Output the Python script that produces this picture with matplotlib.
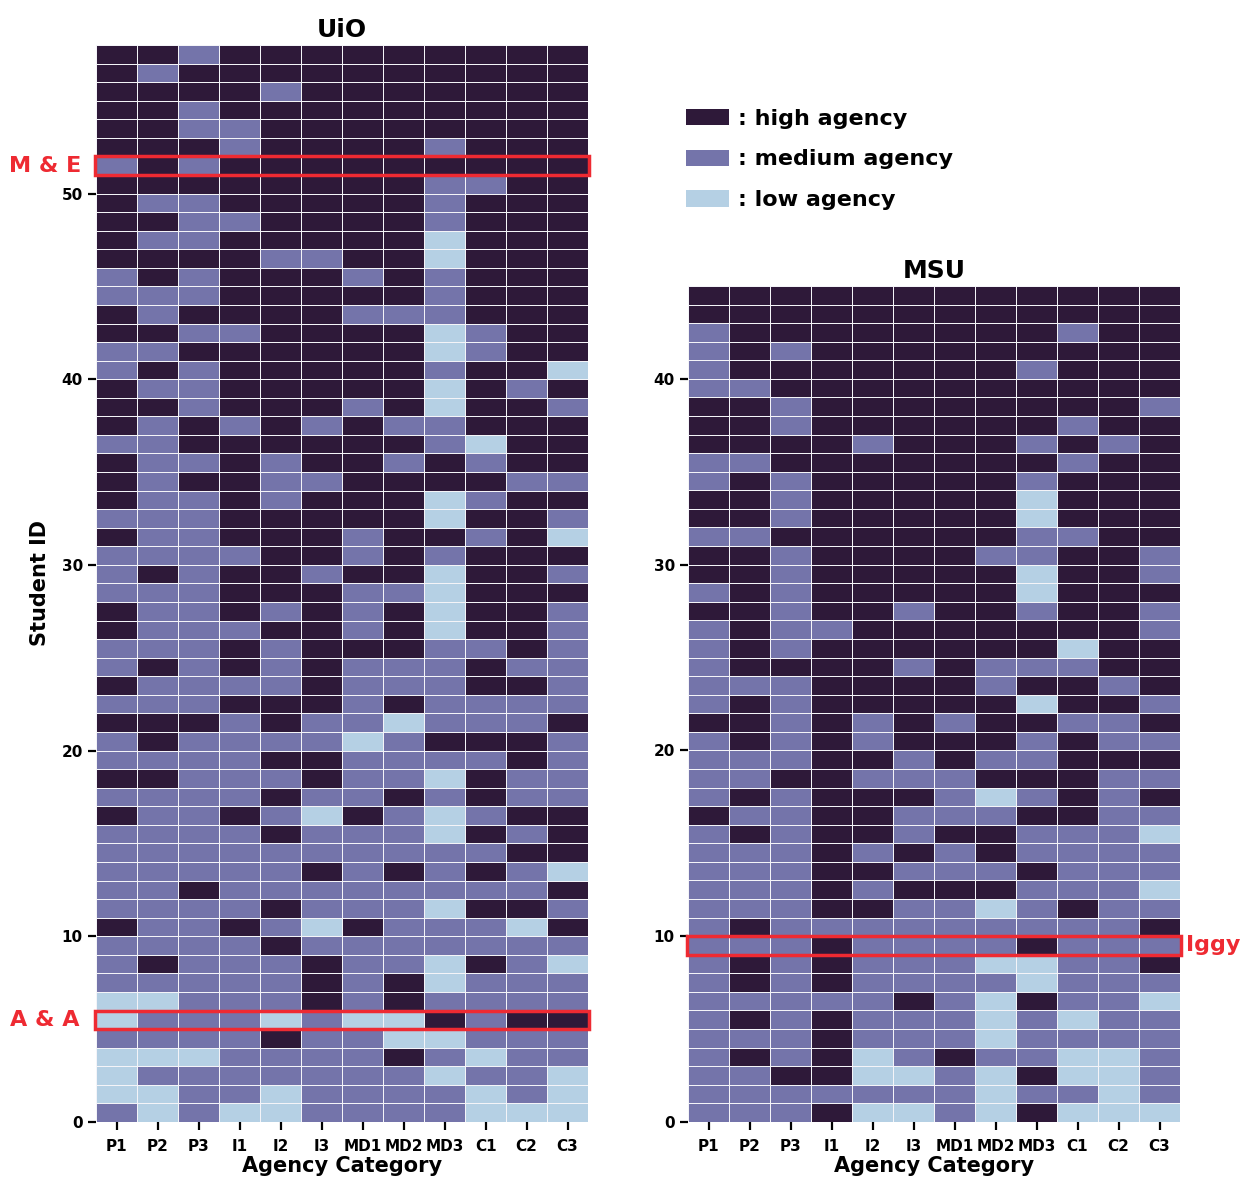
import matplotlib.pyplot as plt
import numpy as np
from matplotlib.colors import ListedColormap
from matplotlib.patches import Patch, Rectangle

plt.rcParams['font.family'] = ['DejaVu Sans']
plt.rcParams['font.weight'] = 'bold'

categories = ['P1', 'P2', 'P3', 'I1', 'I2', 'I3', 'MD1', 'MD2', 'MD3', 'C1', 'C2', 'C3']
codes = {'L': 0, 'M': 1, 'H': 2}
level_names = [': low agency', ': medium agency', ': high agency']
colours = ['#b5d0e4', '#7474aa', '#2e1939']

# one string per student, highest ID first (H = high, M = medium, L = low)
uio_rows = [
    'HHMHHHHHHHHH', 'HMHHHHHHHHHH', 'HHHHMHHHHHHH', 'HHMHHHHHHHHH',
    'HHMMHHHHHHHH', 'HHHMHHHHMHHH', 'MHMHHHHHHHHH', 'HHHHHHHHMMHH',
    'HMMHHHHHMHHH', 'HHMMHHHHMHHH', 'HMMHHHHHLHHH', 'HHHHMMHHLHHH',
    'MHMHHHMHMHHH', 'MMMHHHHHMHHH', 'HMHHHHMMMHHH', 'HHMMHHHHLMHH',
    'MMHHHHHHLMHH', 'MHMHHHHHMHHL', 'HMMHHHHHLHMH', 'HHMHHHMHLHHM',
    'HMHMHMHMMHHH', 'MMHHHHHHMLHH', 'HMMHMHHMHMHH', 'HMHHMMHHHHMM',
    'HMMHMHHHLMHH', 'MMMHHHHHLHHM', 'HMMHHHMHHMHL', 'MMMMHHMHMHHH',
    'MHMHHMHHLHHM', 'MMMHHHMMLHHH', 'HMMHMHMHLHHM', 'HMMMHHMHLHHM',
    'MMMHMHHHMMHM', 'MHMHMHMMMHMM', 'HMMMMHMMMHHM', 'MMMHHHMHMMMM',
    'HHHMHMMLMMMH', 'MHMMMMLMHHHM', 'MMMMHHMMMMHM', 'HHMMMHMMLHMM',
    'MMMMHMMHMHMM', 'HMMHMLHMLMHH', 'MMMMHMMMLHMH', 'MMMMMMMMMMHH',
    'MMMMMHMHMHML', 'MMHMMMMMMMMH', 'MMMMHMMMLHHM', 'HMMHMLHMMMLH',
    'MMMMHMMMMMMM', 'MHMMMHMMLHML', 'MMMMMHMHLMMM', 'LLMMMHMHMMMM',
    'LMMMLMLLHMHH', 'MMMMHMMLLMMM', 'LLLMMMMHMLMM', 'LMMMMMMMLMML',
    'LLMMLMMMMLML', 'MLMLLMMMMLLL',
]
msu_rows = [
    'HHHHHHHHHHHH', 'HHHHHHHHHHHH', 'MHHHHHHHHMHH', 'MHMHHHHHHHHH',
    'MHHHHHHHMHHH', 'MMHHHHHHHHHH', 'HHMHHHHHHHHM', 'HHMHHHHHHMHH',
    'HHHHMHHHMHMH', 'MMHHHHHHHMHH', 'MHMHHHHHMHHH', 'HHMHHHHHLHHH',
    'HHMHHHHHLHHH', 'MMHHHHHHMMHH', 'HHMHHHHMMHHM', 'HHMHHHHHLHHM',
    'MHMHHHHHLHHH', 'HHMHHMHHMHHM', 'MHMMHHHHHHHM', 'MHMHHHHHHLHH',
    'MHHHHMHMMMHH', 'MMMHHHHMHHMH', 'MHMHHHHHLHHM', 'HHMHMHMHHMMH',
    'MHMHMHHHMHMM', 'MMMHHMHMMHHH', 'MMHHMMMHHHMM', 'MHMHHHMLMHMH',
    'HMMHHMMMHHMM', 'MHMHHMHHMMML', 'MMMHMHMHMMMM', 'MMMHHMMMHMMM',
    'MMMHMHHHMMML', 'MMMHHMMLMHMM', 'MHMMMMMMMMMH', 'MMMHMMMMHMMM',
    'MHMHMMMLLMMH', 'MHMHMMMMLMMM', 'MMMMMHMLHMML', 'MHMHMMMLMLMM',
    'MMMHMMMLMMMM', 'MHMHLMHMMLLM', 'MMHHLLMLHLLM', 'MMMMMMMLMMLM',
    'MMMHLLMLHLLL',
]

uio_marked = {'M & E': 51, 'A & A': 5}
msu_marked = {'Iggy': 9}


def to_grid(rows):
    return np.array([[codes[c] for c in r] for r in rows[::-1]])


cmap = ListedColormap(colours)
fig = plt.figure(figsize=(12.41, 11.84), dpi=100)
ax1 = fig.add_axes([0.0774, 0.0524, 0.3965, 0.9096])
ax2 = fig.add_axes([0.5544, 0.0524, 0.3965, 0.7061])

for ax, rows, name in [(ax1, uio_rows, 'UiO'), (ax2, msu_rows, 'MSU')]:
    grid = to_grid(rows)
    n = grid.shape[0]
    ax.pcolormesh(np.arange(len(categories) + 1), np.arange(n + 1), grid,
                  cmap=cmap, vmin=-0.5, vmax=2.5, edgecolors='#f4f4f8', linewidth=0.6)
    ax.set_xlim(0, len(categories))
    ax.set_ylim(0, n)
    ax.set_xticks(np.arange(len(categories)) + 0.5)
    ax.set_xticklabels(categories, fontsize=11, fontweight='bold')
    ax.set_yticks(np.arange(0, n, 10))
    ax.tick_params(axis='y', labelsize=11, length=6, width=1.6)
    ax.tick_params(axis='x', length=6, width=1.6, pad=6)
    for s in ax.spines.values():
        s.set_visible(False)
    ax.set_title(name, fontsize=18, fontweight='bold', pad=6)
    ax.set_xlabel('Agency Category', fontsize=15, fontweight='bold', labelpad=2)

ax1.set_ylabel('Student ID', fontsize=15, fontweight='bold', labelpad=8)

red = '#ee2a32'
for label, row in uio_marked.items():
    ax1.add_patch(Rectangle((-0.03, row), len(categories) + 0.06, 1, fill=False,
                            ec=red, lw=2.5, clip_on=False, zorder=5))
    ax1.text(-1.25, row + 0.5, label, color=red, fontsize=16, fontweight='bold',
             ha='center', va='center')
for label, row in msu_marked.items():
    ax2.add_patch(Rectangle((-0.03, row), len(categories) + 0.06, 1, fill=False,
                            ec=red, lw=2.5, clip_on=False, zorder=5))
    ax2.text(12.15, row + 0.5, label, color=red, fontsize=16, fontweight='bold',
             ha='left', va='center')

handles = [Patch(facecolor=colours[i], edgecolor='none', label=level_names[i]) for i in [2, 1, 0]]
fig.legend(handles=handles, loc='upper left', bbox_to_anchor=(0.537, 0.925),
           frameon=False, handlelength=1.9, handleheight=0.75,
           labelspacing=0.93, handletextpad=0.4, prop={'weight': 'bold', 'size': 16})

fig.savefig('out.png', dpi=100)
